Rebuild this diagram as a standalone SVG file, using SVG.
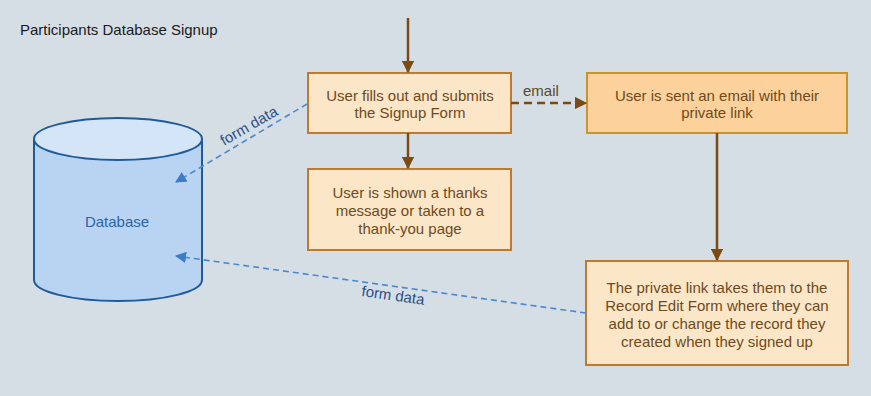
<svg xmlns="http://www.w3.org/2000/svg" width="871" height="396" viewBox="0 0 871 396">
<defs>
<style>
text{font-family:"Liberation Sans",Arial,sans-serif;font-size:15px}
.box{fill:#fbe6c8;stroke:#c07a30;stroke-width:2}
.box2{fill:#fcd19b;stroke:#c9932e;stroke-width:2}
.bt{fill:#6e4a1c;text-anchor:middle}
.brown{stroke:#7b4a12;stroke-width:2.5;fill:none}
.blue{stroke:#4a88d0;stroke-width:1.6;fill:none;stroke-dasharray:6 4}
.lbl{fill:#2a4f86;font-size:15px}
</style>
<marker id="ab" viewBox="0 0 10 10" refX="9" refY="5" markerWidth="5" markerHeight="5" orient="auto" markerUnits="strokeWidth"><path d="M0,0L10,5L0,10z" fill="#7b4a12"/></marker>
<marker id="ablue" viewBox="0 0 10 10" refX="9" refY="5" markerWidth="7" markerHeight="7" orient="auto" markerUnits="strokeWidth"><path d="M0,0L10,5L0,10z" fill="#3d7cc8"/></marker>
</defs>
<rect width="871" height="396" fill="#d5dee5"/>
<text x="20" y="35" fill="#1a1a1a">Participants Database Signup</text>
<g id="database">
<path d="M34,139 L34,280 A84,21 0 0 0 202,280 L202,139" fill="#b9d4f3" stroke="#1f5a9a" stroke-width="2"/>
<ellipse cx="118" cy="139" rx="84" ry="21" fill="#d3e5f6" stroke="#1f5a9a" stroke-width="2"/>
<text x="117" y="227" text-anchor="middle" fill="#2d64a2">Database</text>
</g>
<g id="signup">
<rect class="box" x="308" y="73" width="203" height="60"/>
<text class="bt" x="410" y="101">User fills out and submits</text>
<text class="bt" x="410" y="118">the Signup Form</text>
</g>
<g id="email-sent">
<rect class="box2" x="587" y="73" width="260" height="60"/>
<text class="bt" x="717" y="101">User is sent an email with their</text>
<text class="bt" x="717" y="118">private link</text>
</g>
<g id="thanks">
<rect class="box" x="308" y="169" width="203" height="81"/>
<text class="bt" x="410" y="198">User is shown a thanks</text>
<text class="bt" x="410" y="216">message or taken to a</text>
<text class="bt" x="410" y="234">thank-you page</text>
</g>
<g id="edit">
<rect class="box" x="586" y="261" width="262" height="104"/>
<text class="bt" x="717" y="293">The private link takes them to the</text>
<text class="bt" x="717" y="311">Record Edit Form where they can</text>
<text class="bt" x="717" y="329">add to or change the record they</text>
<text class="bt" x="717" y="347">created when they signed up</text>
</g>
<g id="connectors">
<path class="brown" d="M408,18 L408,72" marker-end="url(#ab)"/>
<path class="brown" d="M408,133 L408,168" marker-end="url(#ab)"/>
<path class="brown" d="M717,133 L717,260" marker-end="url(#ab)"/>
<path class="brown" d="M511,103 L586,103" stroke-dasharray="8 5" marker-end="url(#ab)"/>
<text x="523" y="96" fill="#5a4a2a">email</text>
<path class="blue" d="M307,104 L176,182" marker-end="url(#ablue)"/>
<text class="lbl" transform="translate(224,146) rotate(-30)">form data</text>
<path class="blue" d="M586,313 L176,256" marker-end="url(#ablue)"/>
<text class="lbl" transform="translate(361,296) rotate(8)">form data</text>
</g>
</svg>
